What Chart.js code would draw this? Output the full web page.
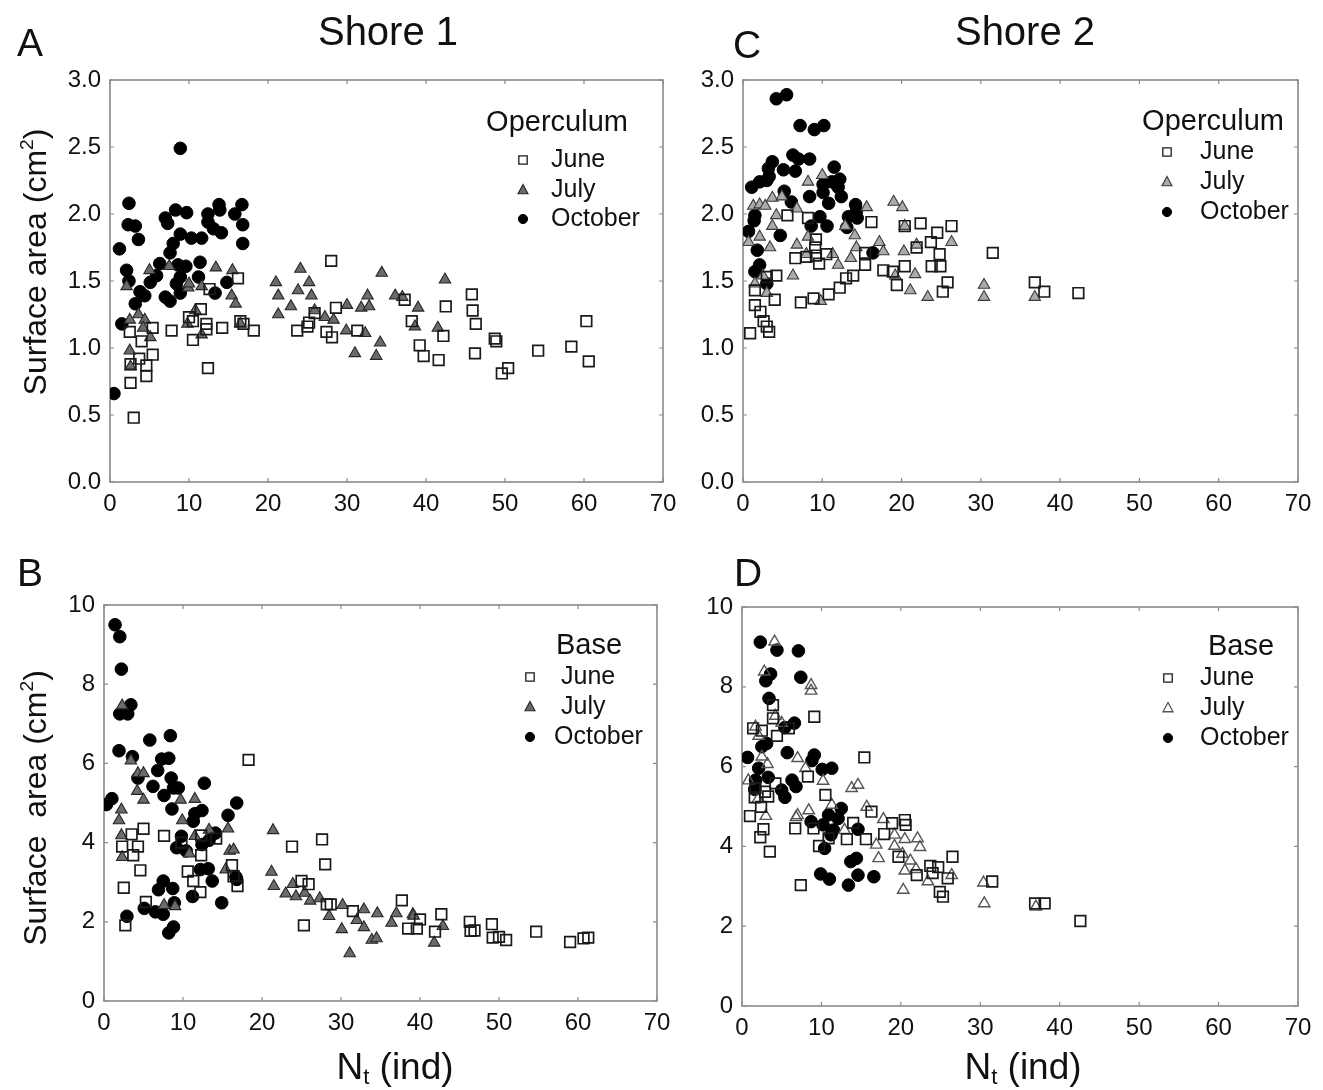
<!DOCTYPE html>
<html><head><meta charset="utf-8">
<script src="https://cdn.jsdelivr.net/npm/chart.js@4.4.1/dist/chart.umd.min.js"></script>
<style>
body{margin:0;background:#fff;width:1323px;height:1090px;position:relative;overflow:hidden;font-family:"Liberation Sans",Arial,sans-serif;color:#111;}
canvas.pc{position:absolute;left:0;top:0;}
.t{position:absolute;white-space:nowrap;line-height:1;transform:translate(-50%,-50%);}
.r{transform:translate(-50%,-50%) rotate(-90deg);}
sup{font-size:60%;vertical-align:0.7em;line-height:0;}
sub{font-size:60%;vertical-align:-0.25em;line-height:0;}
</style></head><body>
<canvas id="cA" class="pc" width="1323" height="1090"></canvas>
<canvas id="cB" class="pc" width="1323" height="1090"></canvas>
<canvas id="cC" class="pc" width="1323" height="1090"></canvas>
<canvas id="cD" class="pc" width="1323" height="1090"></canvas>

<div class="t" style="left:388px;top:31px;font-size:40px;">Shore 1</div>
<div class="t" style="left:1025px;top:31px;font-size:40px;">Shore 2</div>
<div class="t" style="left:30px;top:42px;font-size:39px;">A</div>
<div class="t" style="left:747px;top:44px;font-size:39px;">C</div>
<div class="t" style="left:30px;top:572px;font-size:39px;">B</div>
<div class="t" style="left:748px;top:572px;font-size:39px;">D</div>
<div class="t r" style="left:35px;top:262px;font-size:32px;">Surface area (cm<sup>2</sup>)</div>
<div class="t r" style="left:35px;top:808px;font-size:32px;">Surface&nbsp; area (cm<sup>2</sup>)</div>
<div class="t" style="left:395px;top:1066px;font-size:37px;">N<sub>t</sub> (ind)</div>
<div class="t" style="left:1023px;top:1066px;font-size:37px;">N<sub>t</sub> (ind)</div>

<script>
// ---- tick values ----
const xTickValues = [0, 10, 20, 30, 40, 50, 60, 70];
const opercTickValues = [0, 0.5, 1.0, 1.5, 2.0, 2.5, 3.0];
const baseTickValues = [0, 2, 4, 6, 8, 10];
const seriesNames = ['June', 'July', 'October'];

// ---- Shore 1, Operculum (A) ----
const s1OpJune = [[2.6,0.88],[2.6,0.74],[3.0,0.48],[2.5,1.12],[3.7,0.92],[4.0,1.05],[4.6,0.87],[4.6,0.79],[5.4,0.95],[5.4,1.15],[7.8,1.13],[10.0,1.23],[10.5,1.20],[10.5,1.06],[11.5,1.29],[12.2,1.18],[12.2,1.14],[12.4,0.85],[12.6,1.44],[14.2,1.15],[16.2,1.52],[16.5,1.20],[16.9,1.18],[18.2,1.13],[23.7,1.13],[25.0,1.16],[25.2,1.19],[25.9,1.26],[27.4,1.12],[28.0,1.65],[28.1,1.08],[28.6,1.30],[31.3,1.13],[37.3,1.36],[38.2,1.20],[39.2,1.02],[39.7,0.94],[41.6,0.91],[42.2,1.09],[42.5,1.31],[45.8,1.40],[45.9,1.28],[46.3,1.18],[46.2,0.96],[48.7,1.07],[48.9,1.05],[49.6,0.81],[50.4,0.85],[54.2,0.98],[58.4,1.01],[60.3,1.20],[60.6,0.90]];
const s1OpJuly = [[2.1,1.46],[2.5,1.21],[2.5,0.98],[2.6,0.86],[3.6,1.25],[4.4,1.21],[4.2,1.15],[5.1,1.08],[5.0,1.58],[7.5,1.61],[9.8,1.18],[9.9,1.45],[10.0,1.48],[10.8,1.28],[11.6,1.46],[11.6,1.10],[13.4,1.60],[15.4,1.39],[15.5,1.58],[15.9,1.33],[16.5,1.18],[21.0,1.49],[21.3,1.39],[21.3,1.25],[22.9,1.31],[23.8,1.43],[24.1,1.59],[25.2,1.49],[25.5,1.39],[25.9,1.28],[27.2,1.23],[28.3,1.21],[29.9,1.13],[30.0,1.32],[31.0,0.96],[31.8,1.30],[32.3,1.11],[32.6,1.39],[32.8,1.31],[33.7,0.94],[34.2,1.04],[34.4,1.56],[36.1,1.39],[37.0,1.38],[38.6,1.16],[39.0,1.30],[41.5,1.15],[42.4,1.51]];
const s1OpOct = [[0.5,0.66],[1.2,1.74],[1.5,1.18],[2.1,1.58],[2.4,2.08],[2.3,1.92],[2.4,1.50],[3.2,1.91],[3.2,1.33],[3.6,1.81],[3.8,1.42],[4.4,1.39],[5.1,1.49],[5.9,1.54],[6.3,1.63],[7.0,1.97],[7.3,1.93],[7.0,1.38],[7.6,1.71],[7.6,1.35],[8.0,1.78],[8.3,2.03],[8.4,1.48],[8.6,1.62],[8.9,2.49],[8.9,1.85],[8.9,1.53],[8.9,1.41],[9.6,1.61],[9.7,2.01],[10.3,1.82],[11.2,1.53],[11.4,1.64],[11.6,1.82],[12.4,2.00],[12.4,1.94],[13.1,1.89],[13.3,1.41],[13.8,2.07],[13.9,2.03],[14.1,1.86],[14.8,1.49],[15.8,2.00],[16.7,2.07],[16.8,1.92],[16.8,1.78]];

// ---- Shore 1, Base (B) ----
const s1BaseJune = [[2.3,3.90],[2.5,2.86],[2.7,1.91],[3.5,4.21],[3.7,3.68],[4.3,3.90],[4.6,3.30],[5.0,4.35],[5.3,2.50],[7.6,4.17],[9.8,4.00],[10.6,3.27],[11.3,3.03],[12.2,2.75],[12.3,4.18],[12.3,3.68],[14.2,4.10],[16.2,3.43],[16.4,3.15],[16.9,2.90],[18.3,6.09],[23.8,3.90],[25.0,3.03],[25.3,1.91],[25.9,2.95],[27.6,4.08],[28.0,3.45],[28.2,2.44],[28.7,2.44],[31.5,2.27],[37.7,2.54],[38.5,1.83],[39.6,1.83],[40.0,2.06],[41.9,1.75],[42.7,2.19],[46.3,2.00],[46.4,1.77],[46.9,1.78],[49.1,1.94],[49.2,1.60],[50.0,1.62],[50.9,1.54],[54.7,1.75],[59.0,1.49],[60.7,1.58],[61.3,1.60]];
const s1BaseJuly = [[1.9,4.56],[2.2,4.83],[2.2,4.18],[2.3,7.46],[2.3,3.63],[3.4,6.07],[4.2,5.30],[4.3,5.75],[5.0,5.75],[5.0,5.08],[7.6,2.42],[9.0,2.39],[9.7,5.08],[9.9,4.56],[10.8,3.72],[11.5,5.10],[11.5,4.16],[13.3,4.32],[15.4,3.32],[15.7,4.35],[15.9,3.79],[16.4,3.82],[21.2,3.26],[21.4,4.31],[21.5,2.90],[23.0,2.71],[23.9,2.95],[24.3,2.64],[25.4,2.73],[26.1,2.53],[27.3,2.59],[28.5,2.14],[30.1,1.81],[30.2,2.42],[31.1,1.20],[32.0,2.04],[32.9,2.31],[32.9,1.86],[33.9,1.54],[34.5,1.58],[34.6,2.21],[36.4,1.97],[37.0,2.21],[39.1,2.19],[39.2,2.15],[41.8,1.47],[42.9,1.89]];
const s1BaseOct = [[0.3,4.96],[1.0,5.11],[1.4,9.50],[1.9,6.32],[2.0,9.20],[2.0,7.25],[2.2,8.38],[2.9,2.14],[3.0,7.25],[3.4,7.48],[3.6,6.17],[4.3,5.63],[5.1,2.34],[5.8,6.59],[6.2,5.42],[6.5,2.25],[6.8,5.82],[6.9,2.81],[7.3,6.11],[7.5,3.03],[7.5,2.19],[7.6,5.19],[8.2,6.13],[8.2,1.72],[8.4,6.70],[8.5,5.63],[8.6,4.85],[8.7,2.84],[8.8,5.38],[8.8,1.87],[8.9,2.48],[9.2,3.87],[9.4,5.38],[9.8,4.16],[10.4,3.79],[11.2,2.64],[11.3,4.54],[11.5,4.73],[12.2,3.32],[12.4,4.81],[12.4,3.95],[12.7,5.50],[13.2,3.34],[13.3,4.06],[13.7,3.03],[14.1,4.24],[14.9,2.48],[15.7,4.69],[16.7,3.13],[16.8,5.00],[16.8,3.07]];

// ---- Shore 2, Operculum (C) ----
const s2OpJune = [[0.9,1.11],[1.5,1.43],[1.5,1.32],[2.2,1.27],[2.6,1.20],[3.0,1.16],[3.3,1.12],[3.0,1.53],[4.0,1.36],[4.2,1.54],[5.6,1.99],[6.6,1.67],[7.3,1.34],[8.0,1.68],[8.2,1.97],[8.9,1.37],[9.2,1.81],[9.1,1.75],[9.2,1.69],[9.6,1.63],[10.5,1.70],[10.8,1.40],[12.2,1.45],[13.0,1.52],[13.9,1.54],[15.4,1.71],[15.4,1.62],[16.2,1.94],[17.7,1.58],[18.9,1.57],[19.4,1.47],[20.4,1.91],[20.4,1.61],[21.9,1.75],[22.4,1.93],[23.7,1.79],[23.8,1.61],[24.5,1.86],[24.8,1.70],[24.9,1.61],[25.2,1.42],[25.8,1.49],[26.3,1.91],[31.5,1.71],[36.8,1.49],[38.0,1.42],[42.3,1.41]];
const s2OpJuly = [[0.7,1.79],[1.3,2.06],[1.5,1.48],[2.1,2.07],[2.1,1.83],[2.5,1.54],[2.8,2.06],[3.0,1.41],[3.4,1.75],[3.7,2.12],[3.7,1.91],[4.2,1.99],[4.9,2.13],[6.3,1.54],[6.8,2.04],[6.8,1.77],[8.0,1.70],[8.2,2.24],[8.2,1.83],[9.8,1.35],[10.0,2.29],[11.3,1.70],[12.0,1.62],[12.9,1.91],[13.6,1.67],[14.1,1.84],[14.3,1.75],[15.6,2.05],[17.2,1.79],[17.7,1.72],[19.0,2.09],[19.2,1.54],[20.1,2.05],[20.4,1.91],[20.3,1.72],[21.1,1.43],[21.7,1.55],[21.9,1.77],[23.3,1.38],[26.3,1.79],[30.4,1.47],[30.4,1.38],[36.8,1.38]];
const s2OpOct = [[0.7,1.87],[1.1,2.20],[1.4,1.95],[1.5,1.99],[1.5,1.57],[1.8,1.73],[2.1,2.24],[2.1,1.62],[3.0,2.25],[3.0,1.48],[3.2,2.34],[3.3,2.28],[3.7,2.39],[4.2,2.86],[4.7,1.84],[5.1,2.33],[5.2,2.17],[5.5,2.89],[6.1,2.09],[6.3,2.44],[6.6,2.32],[7.0,2.41],[7.2,2.66],[8.4,2.41],[8.4,2.13],[8.6,1.91],[9.0,2.63],[9.7,1.98],[10.1,2.22],[10.1,2.16],[10.2,2.66],[10.6,1.91],[10.8,2.08],[11.2,2.24],[11.5,2.35],[12.0,2.20],[12.2,2.26],[12.4,2.13],[13.1,1.90],[13.3,1.98],[14.2,2.07],[14.3,2.02],[14.4,1.97],[16.4,1.71]];

// ---- Shore 2, Base (D) ----
const s2BaseJune = [[1.0,4.76],[1.4,6.96],[1.6,5.23],[1.7,5.46],[2.3,4.23],[2.4,4.99],[2.5,6.90],[2.7,4.43],[2.9,5.37],[3.3,5.25],[3.5,3.87],[3.9,7.54],[3.9,7.21],[4.2,5.58],[4.4,6.77],[5.9,6.96],[6.7,4.45],[7.4,3.03],[8.3,5.75],[9.0,4.45],[9.1,7.25],[9.7,4.01],[10.5,5.29],[10.9,4.20],[13.2,4.18],[14.0,4.59],[15.4,6.23],[15.6,4.18],[16.3,4.87],[17.9,4.31],[18.9,4.58],[19.7,3.74],[20.5,4.66],[20.6,4.54],[22.0,3.28],[23.7,3.51],[24.0,3.33],[24.7,3.48],[24.9,2.86],[25.3,2.74],[25.9,3.20],[26.5,3.74],[31.5,3.12],[36.9,2.57],[38.1,2.57],[42.6,2.13]];
const s2BaseJuly = [[0.8,5.65],[1.7,7.00],[2.0,5.18],[2.1,6.77],[2.5,6.25],[2.8,8.38],[3.0,4.76],[3.2,6.06],[4.1,9.13],[4.2,7.27],[5.0,7.09],[6.8,4.73],[7.0,4.78],[7.0,6.21],[8.0,5.96],[8.4,4.90],[8.7,8.04],[8.7,7.90],[10.2,5.64],[11.3,5.04],[12.9,4.41],[13.8,5.46],[14.6,5.54],[15.7,4.99],[16.9,4.04],[17.2,3.70],[17.8,4.68],[19.2,4.29],[19.2,4.01],[20.2,3.81],[20.3,2.91],[20.5,4.18],[20.5,3.39],[21.2,3.64],[21.9,3.43],[22.1,4.20],[22.4,3.98],[23.4,3.12],[26.4,3.28],[30.4,3.09],[30.5,2.57],[37.0,2.49]];
const s2BaseOct = [[0.7,6.23],[1.6,5.43],[1.7,5.66],[2.1,5.96],[2.3,9.12],[2.5,6.50],[3.0,8.15],[3.1,6.58],[3.3,5.73],[3.4,7.71],[3.6,8.32],[4.4,8.92],[5.0,5.41],[5.4,6.98],[5.4,5.23],[5.7,6.35],[6.3,5.66],[6.6,7.09],[6.8,5.50],[7.1,8.90],[7.4,8.24],[8.7,4.62],[8.8,6.15],[9.1,6.29],[9.9,3.31],[10.1,5.93],[10.2,4.54],[10.4,3.95],[10.9,4.79],[11.0,3.18],[11.2,4.29],[11.3,5.96],[11.5,4.41],[12.1,4.70],[12.5,4.95],[13.4,3.03],[13.7,3.62],[14.4,3.70],[14.6,4.43],[14.6,3.28],[16.6,3.24]];

// ---- styling ----
const FONT = '"Liberation Sans", Arial, sans-serif';
const AXIS_COLOR = '#8a8a8a';
const juneStyle = {pointStyle:'rect', pointRadius:7.5, backgroundColor:'rgba(0,0,0,0)', borderColor:'#1a1a1a', borderWidth:1.7};
const octStyle = {pointStyle:'circle', pointRadius:6.3, backgroundColor:'#000', borderColor:'#000', borderWidth:1};
const julyDark = {pointStyle:'triangle', pointRadius:6.6, backgroundColor:'#6b6b6b', borderColor:'#262626', borderWidth:1.1};
const julyLight = {pointStyle:'triangle', pointRadius:6.6, backgroundColor:'#ababab', borderColor:'#3a3a3a', borderWidth:1.1};
const julyOpen = {pointStyle:'triangle', pointRadius:6.6, backgroundColor:'rgba(255,255,255,0)', borderColor:'#555', borderWidth:1.4};

const framePlugin = {
  id: 'frame',
  beforeDatasetsDraw(chart) {
    const {ctx, chartArea: a, scales: {x, y}} = chart;
    ctx.save();
    ctx.strokeStyle = AXIS_COLOR;
    ctx.lineWidth = 1.6;
    ctx.strokeRect(a.left, a.top, a.right - a.left, a.bottom - a.top);
    ctx.lineWidth = 1.2;
    ctx.beginPath();
    x.ticks.forEach(t => {
      const px = x.getPixelForValue(t.value);
      ctx.moveTo(px, a.bottom); ctx.lineTo(px, a.bottom - 4);
      ctx.moveTo(px, a.top); ctx.lineTo(px, a.top + 4);
    });
    y.ticks.forEach(t => {
      const py = y.getPixelForValue(t.value);
      ctx.moveTo(a.left, py); ctx.lineTo(a.left + 4, py);
      ctx.moveTo(a.right, py); ctx.lineTo(a.right - 4, py);
    });
    ctx.stroke();
    ctx.restore();
  }
};

function drawMarker(ctx, style, cx, cy, r) {
  ctx.save();
  ctx.fillStyle = style.backgroundColor;
  ctx.strokeStyle = style.borderColor;
  ctx.lineWidth = Math.min(style.borderWidth, 1.3);
  ctx.beginPath();
  if (style.pointStyle === 'rect') {
    ctx.rect(cx - r, cy - r, 2 * r, 2 * r);
  } else if (style.pointStyle === 'triangle') {
    ctx.moveTo(cx, cy - r * 1.1);
    ctx.lineTo(cx + r * 1.0, cy + r * 0.75);
    ctx.lineTo(cx - r * 1.0, cy + r * 0.75);
    ctx.closePath();
  } else {
    ctx.arc(cx, cy, r, 0, Math.PI * 2);
  }
  ctx.fill();
  ctx.stroke();
  ctx.restore();
}

const legendPlugin = {
  id: 'innerLegend',
  afterDraw(chart, args, opts) {
    const ctx = chart.ctx;
    ctx.save();
    ctx.fillStyle = '#111';
    ctx.textBaseline = 'middle';
    ctx.font = opts.titleSize + 'px ' + FONT;
    ctx.textAlign = 'center';
    ctx.fillText(opts.title, opts.titleX, opts.titleY);
    ctx.font = opts.itemSize + 'px ' + FONT;
    ctx.textAlign = 'left';
    chart.data.datasets.forEach((ds, i) => {
      const yy = opts.rows[i];
      drawMarker(ctx, ds, opts.markerX, yy, opts.markerR[i]);
      ctx.fillStyle = '#111';
      ctx.fillText(ds.label, opts.textX[i], yy);
    });
    ctx.restore();
  }
};

const toXY = arr => arr.map(([x, y]) => ({x, y}));

function makePanel(id, series, styles, area, yMax, yTicks, yFmt, legend) {
  const datasets = series.map((s, i) => Object.assign({label: seriesNames[i], data: toXY(s)}, styles[i]));
  const pad = {left: area.l - 60, top: area.t, right: 1323 - area.r, bottom: 1090 - area.b - 50};
  return new Chart(document.getElementById(id), {
    type: 'scatter',
    data: {datasets},
    options: {
      responsive: false, animation: false, devicePixelRatio: 1,
      layout: {padding: pad},
      plugins: {legend: {display: false}, tooltip: {enabled: false}, innerLegend: legend},
      scales: {
        x: {
          type: 'linear', min: 0, max: 70,
          afterBuildTicks: s => { s.ticks = xTickValues.map(v => ({value: v})); },
          afterFit: s => { s.height = 50; },
          grid: {display: false, drawTicks: false}, border: {display: false},
          ticks: {color: '#111', padding: 8, font: {family: FONT, size: 24}, maxRotation: 0, autoSkip: false}
        },
        y: {
          type: 'linear', min: 0, max: yMax,
          afterBuildTicks: s => { s.ticks = yTicks.map(v => ({value: v})); },
          afterFit: s => { s.width = 60; },
          grid: {display: false, drawTicks: false}, border: {display: false},
          ticks: {color: '#111', padding: 9, font: {family: FONT, size: 24}, callback: yFmt, autoSkip: false}
        }
      }
    },
    plugins: [framePlugin, legendPlugin]
  });
}

const fmt1 = v => Number(v).toFixed(1);
const fmt0 = v => String(v);

makePanel('cA', [s1OpJune, s1OpJuly, s1OpOct], [juneStyle, julyDark, octStyle],
  {l: 110, t: 80, r: 663, b: 482}, 3, opercTickValues, fmt1,
  {title: 'Operculum', titleX: 557, titleY: 123, titleSize: 29, itemSize: 25,
   markerX: 523, markerR: [4.2, 5, 4.6], textX: [551, 551, 551], rows: [160, 190, 219]});

makePanel('cB', [s1BaseJune, s1BaseJuly, s1BaseOct], [juneStyle, julyDark, octStyle],
  {l: 104, t: 605, r: 657, b: 1001}, 10, baseTickValues, fmt0,
  {title: 'Base', titleX: 589, titleY: 646, titleSize: 29, itemSize: 25,
   markerX: 530, markerR: [4.2, 5, 4.6], textX: [561, 561, 554], rows: [677, 707, 737]});

makePanel('cC', [s2OpJune, s2OpJuly, s2OpOct], [juneStyle, julyLight, octStyle],
  {l: 743, t: 80, r: 1298, b: 482}, 3, opercTickValues, fmt1,
  {title: 'Operculum', titleX: 1213, titleY: 122, titleSize: 29, itemSize: 25,
   markerX: 1167, markerR: [4.2, 5, 4.6], textX: [1200, 1200, 1200], rows: [152, 182, 212]});

makePanel('cD', [s2BaseJune, s2BaseJuly, s2BaseOct], [juneStyle, julyOpen, octStyle],
  {l: 742, t: 607, r: 1298, b: 1006}, 10, baseTickValues, fmt0,
  {title: 'Base', titleX: 1241, titleY: 647, titleSize: 29, itemSize: 25,
   markerX: 1168, markerR: [4.2, 5, 4.6], textX: [1200, 1200, 1200], rows: [678, 708, 738]});
</script>
</body></html>
